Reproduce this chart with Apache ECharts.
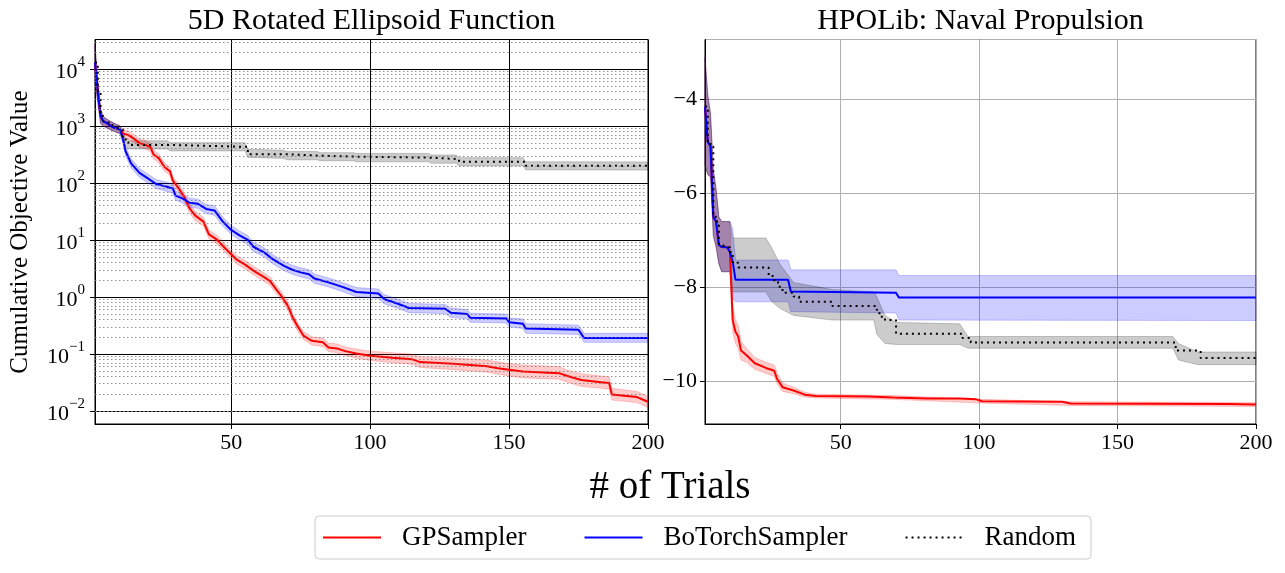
<!DOCTYPE html>
<html><head><meta charset="utf-8">
<script src="https://cdn.jsdelivr.net/npm/echarts/dist/echarts.min.js"></script>
<style>html,body{margin:0;padding:0;background:#fff}#c{width:1285px;height:573px}</style>
</head><body><div id="c"></div>
<script>
// ---------- DATA ----------
const X_TICKS = [50, 100, 150, 200];
const LEGEND_NAMES = ['GPSampler', 'BoTorchSampler', 'Random'];

// 5D Rotated Ellipsoid: [trial, mean]
const ELL_GP = [[1,13000],[2,4000],[3,1500],[4,1200],[5,1150],[6,1050],[7,980],[8,930],[9,900],[10,870],[11,740],[13,690],[15,600],[17,500],[19,470],[21,420],[22,320],[24,270],[26,190],[28,160],[29,110],[31,82],[33,58],[35,36],[37,27],[40,21],[42,12.5],[45,10],[48,7],[50,5.6],[52,4.5],[55,3.7],[58,2.9],[62,2.2],[64,1.9],[66,1.4],[68,1.05],[70,0.75],[71,0.6],[72,0.45],[74,0.3],[76,0.21],[79,0.17],[83,0.16],[85,0.13],[88,0.125],[91,0.112],[95,0.102],[100,0.093],[108,0.086],[115,0.081],[118,0.072],[130,0.067],[142,0.061],[146,0.056],[150,0.053],[155,0.049],[168,0.046],[171,0.041],[176,0.035],[183,0.032],[186,0.031],[187,0.0195],[196,0.0175],[200,0.0145]];
const ELL_BT = [[1,13000],[2,4000],[3,1500],[4,1200],[5,1150],[6,1050],[7,980],[8,930],[9,900],[10,870],[11,620],[12,360],[14,220],[17,150],[20,120],[23,96],[26,88],[29,80],[30,60],[33,52],[35,45],[38,43],[41,35],[44,33],[47,21],[50,15],[53,12],[56,10],[58,7.6],[62,6],[65,4.6],[69,3.5],[72,3.0],[75,2.7],[78,2.5],[80,2.1],[85,1.8],[90,1.5],[95,1.22],[103,1.15],[105,0.92],[110,0.76],[114,0.64],[127,0.62],[129,0.53],[135,0.5],[136,0.43],[149,0.42],[150,0.36],[155,0.34],[156,0.28],[175,0.265],[177,0.19],[200,0.19]];
const ELL_RS = [[1,13000],[2,4000],[3,1500],[4,1200],[5,1150],[6,1050],[7,980],[8,930],[9,900],[10,870],[11,620],[12,520],[13,465],[28,430],[56,320],[70,300],[82,290],[95,278],[122,262],[132,235],[156,200],[200,200]];
// bands: [trial, low, high]
const ELL_GP_BAND = [[1,6000,26000],[2,2600,6500],[3,1100,2000],[4,1000,1450],[6,880,1250],[9,760,1050],[10,740,1010],[11,620,880],[13,580,820],[15,510,710],[17,420,590],[19,400,560],[21,355,500],[22,270,380],[24,225,320],[26,160,225],[28,135,190],[29,92,130],[31,70,97],[33,49,69],[35,30,43],[37,22,32],[40,17.5,25],[42,10.5,15],[45,8.4,12],[48,5.9,8.3],[50,4.7,6.6],[52,3.8,5.3],[55,3.1,4.4],[58,2.45,3.45],[62,1.85,2.6],[64,1.6,2.25],[66,1.18,1.65],[68,0.88,1.25],[70,0.63,0.89],[71,0.5,0.72],[72,0.38,0.53],[74,0.25,0.35],[76,0.18,0.25],[79,0.143,0.2],[83,0.135,0.19],[85,0.11,0.155],[88,0.105,0.15],[91,0.094,0.133],[95,0.085,0.122],[100,0.077,0.112],[108,0.07,0.105],[115,0.066,0.1],[118,0.058,0.089],[130,0.053,0.085],[142,0.048,0.078],[146,0.044,0.072],[150,0.041,0.068],[155,0.038,0.064],[168,0.036,0.06],[171,0.032,0.052],[176,0.027,0.045],[183,0.025,0.041],[186,0.024,0.04],[187,0.0155,0.025],[196,0.014,0.022],[200,0.0115,0.018]];
const ELL_BT_BAND = [[1,6000,26000],[2,2600,6500],[3,1100,2000],[4,1000,1450],[6,880,1250],[9,760,1050],[10,740,1010],[11,520,740],[12,300,430],[14,185,265],[17,126,180],[20,100,144],[23,80,115],[26,73,106],[29,66,96],[30,50,72],[33,43,62],[35,37,54],[38,36,52],[41,29,42],[44,27,40],[47,17.5,25],[50,12.5,18],[53,10,14.4],[56,8.3,12],[58,6.3,9.1],[62,5,7.2],[65,3.8,5.5],[69,2.9,4.2],[72,2.5,3.6],[75,2.24,3.24],[78,2.07,3],[80,1.74,2.52],[85,1.5,2.16],[90,1.25,1.8],[95,1.01,1.46],[103,0.95,1.38],[105,0.76,1.1],[110,0.63,0.91],[114,0.53,0.77],[127,0.51,0.74],[129,0.44,0.64],[135,0.41,0.6],[136,0.36,0.52],[149,0.35,0.5],[150,0.3,0.43],[155,0.28,0.41],[156,0.23,0.34],[175,0.22,0.32],[177,0.16,0.23],[200,0.16,0.23]];
const ELL_RS_BAND = [[1,6000,26000],[2,2600,6500],[3,1100,2000],[4,1000,1450],[6,880,1250],[9,760,1050],[10,740,1010],[11,520,730],[12,440,610],[13,395,550],[27,395,550],[28,365,510],[55,365,510],[56,280,390],[69,270,375],[70,255,355],[81,255,355],[82,245,340],[94,245,340],[95,235,330],[121,235,330],[122,222,310],[131,222,310],[132,200,278],[155,200,278],[156,170,236],[200,168,234]];

// HPOLib Naval Propulsion: [trial, mean]
const NAV_GP = [[1,-4.15],[2,-4.9],[3,-5.0],[4,-6.5],[5,-6.6],[6,-7.1],[7,-7.14],[9,-7.15],[10,-7.25],[11,-8.7],[12,-8.95],[13,-9.05],[14,-9.35],[16,-9.45],[19,-9.62],[23,-9.72],[26,-9.78],[27,-9.95],[29,-10.13],[33,-10.2],[37,-10.29],[41,-10.32],[60,-10.33],[69,-10.35],[81,-10.37],[93,-10.37],[99,-10.39],[101,-10.43],[130,-10.44],[133,-10.48],[190,-10.49],[200,-10.5]];
const NAV_BT = [[1,-4.15],[2,-4.9],[3,-5.0],[4,-6.5],[5,-6.6],[6,-7.1],[7,-7.14],[9,-7.15],[10,-7.25],[11,-7.45],[12,-7.84],[31,-7.84],[32,-8.09],[70,-8.12],[71,-8.22],[200,-8.22]];
const NAV_RS = [[1,-4.15],[2,-4.9],[3,-5.0],[4,-6.5],[5,-6.6],[6,-7.1],[7,-7.14],[9,-7.15],[10,-7.25],[11,-7.48],[13,-7.58],[24,-7.76],[26,-7.9],[28,-8.06],[30,-8.12],[33,-8.2],[35,-8.31],[47,-8.4],[63,-8.48],[64,-8.63],[66,-8.7],[70,-8.99],[94,-9.08],[97,-9.18],[171,-9.35],[180,-9.51],[200,-9.51]];
const NAV_GP_BAND = [[1,-5.4,-3.1],[2,-5.6,-3.9],[3,-5.65,-4.3],[4,-6.9,-5.5],[5,-7.14,-5.9],[6,-7.5,-6.5],[7,-7.67,-6.6],[10,-7.67,-6.6],[11,-8.95,-8.4],[12,-9.2,-8.7],[13,-9.3,-8.8],[14,-9.55,-9.15],[16,-9.6,-9.3],[19,-9.75,-9.5],[23,-9.84,-9.6],[26,-9.9,-9.66],[27,-10.05,-9.82],[29,-10.22,-10.04],[33,-10.27,-10.13],[37,-10.34,-10.24],[41,-10.36,-10.28],[69,-10.39,-10.31],[101,-10.47,-10.39],[133,-10.52,-10.44],[200,-10.54,-10.46]];
const NAV_BT_BAND = [[1,-5.4,-3.1],[2,-5.6,-3.9],[3,-5.65,-4.3],[4,-6.9,-5.5],[5,-7.14,-5.9],[6,-7.5,-6.5],[7,-7.67,-6.6],[10,-7.67,-6.6],[11,-8.25,-6.75],[12,-8.31,-7.42],[31,-8.31,-7.42],[32,-8.52,-7.63],[70,-8.55,-7.63],[71,-8.7,-7.75],[200,-8.71,-7.75]];
const NAV_RS_BAND = [[1,-5.4,-3.1],[2,-5.6,-3.9],[3,-5.65,-4.3],[4,-6.9,-5.5],[5,-7.14,-5.9],[6,-7.5,-6.5],[7,-7.67,-6.6],[10,-7.67,-6.6],[11,-8.1,-6.95],[23,-8.1,-6.95],[25,-8.3,-7.15],[28,-8.45,-7.5],[33,-8.6,-7.9],[47,-8.7,-8.05],[62,-8.7,-8.1],[63,-9.0,-8.2],[66,-9.2,-8.6],[70,-9.22,-8.75],[93,-9.22,-8.78],[96,-9.3,-9.05],[170,-9.3,-9.05],[172,-9.55,-9.2],[179,-9.65,-9.38],[200,-9.65,-9.38]];

// ---------- CHART ----------
const FONT = 'Liberation Serif';
const ELL_YMIN = 0.0059, ELL_YMAX = 32900;
const NAV_YMIN = -10.915, NAV_YMAX = -2.72;

const minorVals = [];
for (let k = -3; k <= 4; k++) for (let m = 2; m <= 9; m++) {
  const v = m * Math.pow(10, k);
  if (v > ELL_YMIN && v < ELL_YMAX) minorVals.push(+v.toPrecision(3));
}

function band(pts, color, idx) {
  return {
    type: 'custom', xAxisIndex: idx, yAxisIndex: idx, z: 1, silent: true,
    data: [[pts[0][0], pts[0][2]]],
    renderItem: function (params, api) {
      const up = pts.map(p => api.coord([p[0], p[2]]));
      const lo = pts.slice().reverse().map(p => api.coord([p[0], p[1]]));
      return { type: 'polygon', shape: { points: up.concat(lo) },
        style: { fill: color, stroke: color, lineWidth: 1 } };
    }
  };
}
function line(name, data, color, idx, dotted) {
  return {
    type: 'line', name: name, xAxisIndex: idx, yAxisIndex: idx, data: data,
    showSymbol: false, symbol: 'none', z: 3, silent: true,
    step: dotted ? 'end' : false,
    lineStyle: { color: color, width: 2, type: dotted ? [2, 4] : 'solid' },
    itemStyle: { color: color }
  };
}
const RED_B = 'rgba(255,0,0,0.2)', BLUE_B = 'rgba(0,0,255,0.2)', GRAY_B = 'rgba(0,0,0,0.2)';

function xAxisCfg(idx, gridColor) {
  return {
    type: 'value', gridIndex: idx, min: 1, max: 200, splitNumber: 4,
    axisLine: { show: true, lineStyle: { color: '#000', width: 1 } },
    axisTick: { show: true, length: 5, lineStyle: { color: '#000' } },
    axisLabel: { showMinLabel: false, fontSize: 22, fontFamily: FONT, color: '#000', margin: 8 },
    splitLine: { show: true, lineStyle: { color: gridColor, width: 1 } }
  };
}

const option = {
  animation: false,
  textStyle: { fontFamily: FONT },
  grid: [
    { left: 95, top: 39.5, width: 553, height: 384.5, show: true, borderColor: '#000', borderWidth: 1, backgroundColor: 'transparent' },
    { left: 705, top: 39.5, width: 551, height: 384.5, show: true, borderColor: '#000', borderWidth: 1, backgroundColor: 'transparent' }
  ],
  xAxis: [xAxisCfg(0, '#000'), xAxisCfg(1, '#b0b0b0')],
  yAxis: [
    { type: 'log', logBase: 10, gridIndex: 0, min: ELL_YMIN, max: ELL_YMAX,
      axisLine: { show: true, lineStyle: { color: '#000' } },
      axisTick: { show: true, length: 5, lineStyle: { color: '#000' } },
      axisLabel: {
        showMinLabel: false, showMaxLabel: false, margin: 10, color: '#000',
        formatter: function (v) {
          const e = Math.round(Math.log10(v));
          return '{b|10}{s|' + (e < 0 ? '\u2212' + (-e) : e) + '}';
        },
        rich: {
          b: { fontSize: 22, fontFamily: FONT, color: '#000', lineHeight: 28, verticalAlign: 'bottom' },
          s: { fontSize: 15, fontFamily: FONT, color: '#000', lineHeight: 28, verticalAlign: 'top' }
        }
      },
      splitLine: { show: true, lineStyle: { color: '#000', width: 1 } }
    },
    { type: 'value', gridIndex: 1, min: NAV_YMIN, max: NAV_YMAX, splitNumber: 4,
      axisLine: { show: true, lineStyle: { color: '#000' } },
      axisTick: { show: true, length: 5, lineStyle: { color: '#000' } },
      axisLabel: { showMinLabel: false, showMaxLabel: false, fontSize: 22, fontFamily: FONT, color: '#000', margin: 8,
        formatter: v => (v < 0 ? '\u2212' : '') + Math.abs(v) },
      splitLine: { show: true, lineStyle: { color: '#b0b0b0', width: 1 } }
    }
  ],
  legend: {
    data: LEGEND_NAMES, left: 315, top: 516, orient: 'horizontal',
    padding: [8, 15, 8, 7], itemGap: 57, itemWidth: 58, itemHeight: 14,
    borderColor: '#cccccc', borderWidth: 1, borderRadius: 4, backgroundColor: '#fff',
    itemStyle: { opacity: 0, borderWidth: 0 },
    textStyle: { fontSize: 27, fontFamily: FONT, color: '#000', padding: [0, 0, 0, 16] }
  },
  graphic: [
    { type: 'text', x: 371.5, y: 21, style: { text: '5D Rotated Ellipsoid Function', fontSize: 30, fontFamily: FONT, fill: '#000', align: 'center', verticalAlign: 'middle' } },
    { type: 'text', x: 980.5, y: 21, style: { text: 'HPOLib: Naval Propulsion', fontSize: 30, fontFamily: FONT, fill: '#000', align: 'center', verticalAlign: 'middle' } },
    { type: 'text', x: 670, y: 488, style: { text: '# of Trials', fontSize: 39, fontFamily: FONT, fill: '#000', align: 'center', verticalAlign: 'middle' } },
    { type: 'text', x: 20, y: 232, rotation: Math.PI / 2, style: { text: 'Cumulative Objective Value', fontSize: 25, fontFamily: FONT, fill: '#000', align: 'center', verticalAlign: 'middle' } }
  ],
  series: [
    band(ELL_GP_BAND, RED_B, 0), band(ELL_BT_BAND, BLUE_B, 0), band(ELL_RS_BAND, GRAY_B, 0),
    { type: 'line', name: 'minorgrid', xAxisIndex: 0, yAxisIndex: 0, data: [[1, 1]], symbol: 'none', z: 2, silent: true,
      lineStyle: { opacity: 0 },
      markLine: { silent: true, symbol: 'none', label: { show: false },
        lineStyle: { color: '#777', width: 0.8, type: [1.5, 2.5] },
        data: minorVals.map(v => ({ yAxis: v })) } },
    line('GPSampler', ELL_GP, '#ff0000', 0, false),
    line('BoTorchSampler', ELL_BT, '#0000ff', 0, false),
    line('Random', ELL_RS, '#000000', 0, true),
    band(NAV_GP_BAND, RED_B, 1), band(NAV_BT_BAND, BLUE_B, 1), band(NAV_RS_BAND, GRAY_B, 1),
    line('GPSampler', NAV_GP, '#ff0000', 1, false),
    line('BoTorchSampler', NAV_BT, '#0000ff', 1, false),
    line('Random', NAV_RS, '#000000', 1, true)
  ]
};
const chart = echarts.init(document.getElementById('c'), null, { renderer: 'canvas' });
chart.setOption(option);
</script></body></html>
